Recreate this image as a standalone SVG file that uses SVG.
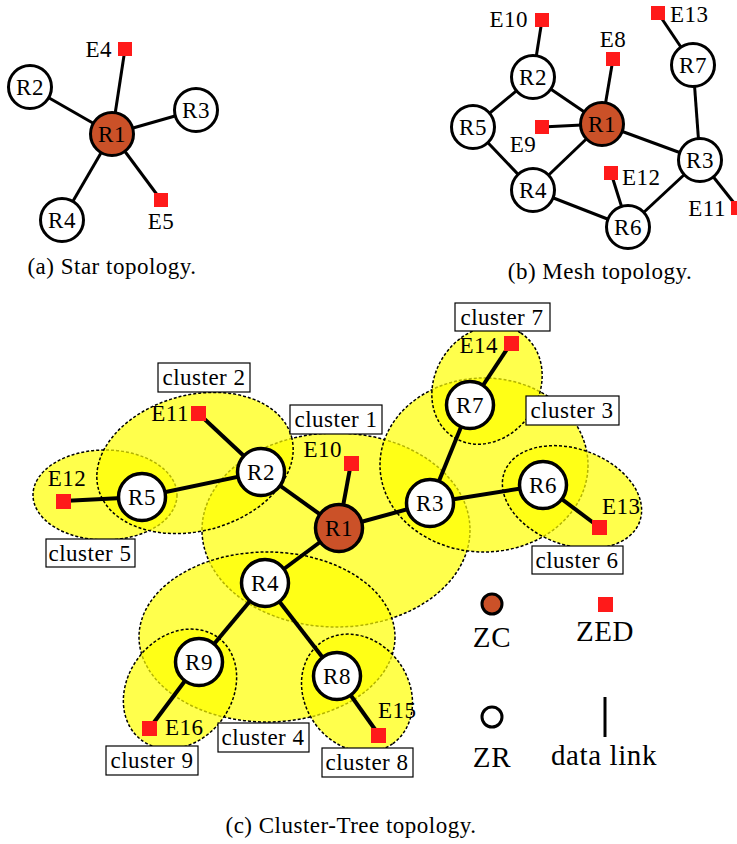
<svg xmlns="http://www.w3.org/2000/svg" width="737" height="844" viewBox="0 0 737 844" font-family="'Liberation Serif', 'DejaVu Serif', serif">
  <style>
    text { font-family: 'Liberation Serif', 'DejaVu Serif', serif; font-size: 23px; letter-spacing: 0.5px; fill: #000; }
    .mid { text-anchor: middle; }
    .end { text-anchor: end; }
    .big { font-size: 29px; letter-spacing: 0.6px; }
    .zr { fill: #fff; stroke: #000; stroke-width: 3; }
    .zc { fill: #CB5128; stroke: #000; stroke-width: 3; }
    .zr4 { fill: #fff; stroke: #000; stroke-width: 3.5; }
    .zc4 { fill: #CB5128; stroke: #000; stroke-width: 3.5; }
    .zed { fill: #FF1A1A; }
    .link line { stroke: #000; stroke-width: 3; }
    .link4 line { stroke: #000; stroke-width: 4; }
    .cl { fill: #FFFF00; fill-opacity: 0.7; stroke: #000; stroke-width: 1.5; stroke-dasharray: 3 2; }
    .tag { fill: #fff; stroke: #000; stroke-width: 1.2; }
  </style>

  <!-- (a) star topology -->
  <g id="star">
    <g id="star-links" class="link">
      <line x1="112" y1="134" x2="125" y2="49"/>
      <line x1="112" y1="134" x2="30" y2="87"/>
      <line x1="112" y1="134" x2="196" y2="110"/>
      <line x1="112" y1="134" x2="62" y2="220"/>
      <line x1="112" y1="134" x2="161" y2="200"/>
    </g>
    <g id="a-R1"><circle class="zc" cx="112" cy="134" r="21.5"/><text class="mid" x="112" y="142">R1</text></g>
    <g id="a-R2"><circle class="zr" cx="30" cy="87" r="21.5"/><text class="mid" x="30" y="95">R2</text></g>
    <g id="a-R3"><circle class="zr" cx="196" cy="110" r="21.5"/><text class="mid" x="196" y="118">R3</text></g>
    <g id="a-R4"><circle class="zr" cx="62" cy="220" r="21.5"/><text class="mid" x="62" y="228">R4</text></g>
    <g id="a-E4"><rect class="zed" x="118" y="42" width="14" height="14"/><text class="end" x="112" y="57">E4</text></g>
    <g id="a-E5"><rect class="zed" x="154" y="193" width="14" height="14"/><text class="mid" x="161" y="229">E5</text></g>
    <text class="mid" x="112" y="274">(a) Star topology.</text>
  </g>

  <!-- (b) mesh topology -->
  <g id="mesh">
    <g id="mesh-links" class="link">
      <line x1="533" y1="77" x2="542" y2="20"/>
      <line x1="533" y1="77" x2="473" y2="127"/>
      <line x1="533" y1="77" x2="602" y2="124"/>
      <line x1="602" y1="124" x2="613" y2="59"/>
      <line x1="602" y1="124" x2="542" y2="127"/>
      <line x1="602" y1="124" x2="533" y2="190"/>
      <line x1="602" y1="124" x2="700" y2="160"/>
      <line x1="473" y1="127" x2="533" y2="190"/>
      <line x1="533" y1="190" x2="628" y2="227"/>
      <line x1="628" y1="227" x2="611" y2="173"/>
      <line x1="628" y1="227" x2="700" y2="160"/>
      <line x1="700" y1="160" x2="693" y2="65"/>
      <line x1="693" y1="65" x2="658" y2="13"/>
      <line x1="700" y1="160" x2="738" y2="208"/>
    </g>
    <g id="b-R1"><circle class="zc" cx="602" cy="124" r="21.5"/><text class="mid" x="602" y="132">R1</text></g>
    <g id="b-R2"><circle class="zr" cx="533" cy="77" r="21.5"/><text class="mid" x="533" y="85">R2</text></g>
    <g id="b-R3"><circle class="zr" cx="700" cy="160" r="21.5"/><text class="mid" x="700" y="168">R3</text></g>
    <g id="b-R4"><circle class="zr" cx="533" cy="190" r="21.5"/><text class="mid" x="533" y="198">R4</text></g>
    <g id="b-R5"><circle class="zr" cx="473" cy="127" r="21.5"/><text class="mid" x="473" y="135">R5</text></g>
    <g id="b-R6"><circle class="zr" cx="628" cy="227" r="21.5"/><text class="mid" x="628" y="235">R6</text></g>
    <g id="b-R7"><circle class="zr" cx="693" cy="65" r="21.5"/><text class="mid" x="693" y="73">R7</text></g>
    <g id="b-E10"><rect class="zed" x="535" y="13" width="14" height="14"/><text class="end" x="528" y="27">E10</text></g>
    <g id="b-E8"><rect class="zed" x="606" y="52" width="14" height="14"/><text class="mid" x="613" y="47">E8</text></g>
    <g id="b-E9"><rect class="zed" x="535" y="120" width="14" height="14"/><text class="mid" x="523" y="152">E9</text></g>
    <g id="b-E12"><rect class="zed" x="604" y="166" width="14" height="14"/><text x="622" y="185">E12</text></g>
    <g id="b-E13"><rect class="zed" x="651" y="6" width="14" height="14"/><text x="670" y="22">E13</text></g>
    <g id="b-E11"><rect class="zed" x="731" y="201" width="14" height="14"/><text class="end" x="726" y="216">E11</text></g>
    <text class="mid" x="600" y="279">(b) Mesh topology.</text>
  </g>

  <!-- (c) cluster-tree topology -->
  <g id="cluster-tree">
    <g id="clusters">
      <ellipse id="cluster1" class="cl" cx="336" cy="530" rx="134" ry="97"/>
      <ellipse id="cluster3" class="cl" cx="484" cy="465" rx="104" ry="87"/>
      <ellipse id="cluster4" class="cl" cx="267" cy="637" rx="128" ry="85"/>
      <ellipse id="cluster5" class="cl" cx="105" cy="495" rx="72" ry="45"/>
      <ellipse id="cluster2" class="cl" cx="195" cy="463" rx="100" ry="68" transform="rotate(-15 195 463)"/>
      <ellipse id="cluster7" class="cl" cx="487" cy="385" rx="62" ry="52" transform="rotate(-57 487 385)"/>
      <ellipse id="cluster6" class="cl" cx="572" cy="497" rx="72" ry="48" transform="rotate(20 572 497)"/>
      <ellipse id="cluster9" class="cl" cx="180" cy="689" rx="64" ry="52" transform="rotate(-53 180 689)"/>
      <ellipse id="cluster8" class="cl" cx="357" cy="693" rx="62" ry="52" transform="rotate(55 357 693)"/>
    </g>

    <g id="cluster-tags">
      <g id="tag1"><rect class="tag" x="290" y="405" width="92" height="29"/><text class="mid" x="336" y="427">cluster 1</text></g>
      <g id="tag2"><rect class="tag" x="158" y="363" width="92" height="29"/><text class="mid" x="204" y="385">cluster 2</text></g>
      <g id="tag3"><rect class="tag" x="526" y="396" width="93" height="29"/><text class="mid" x="572" y="418">cluster 3</text></g>
      <g id="tag4"><rect class="tag" x="218" y="723" width="91" height="29"/><text class="mid" x="263" y="745">cluster 4</text></g>
      <g id="tag5"><rect class="tag" x="46" y="539" width="89" height="28"/><text class="mid" x="90" y="561">cluster 5</text></g>
      <g id="tag6"><rect class="tag" x="532" y="546" width="91" height="28"/><text class="mid" x="577" y="568">cluster 6</text></g>
      <g id="tag7"><rect class="tag" x="455" y="303" width="95" height="28"/><text class="mid" x="502" y="325">cluster 7</text></g>
      <g id="tag8"><rect class="tag" x="322" y="748" width="91" height="29"/><text class="mid" x="367" y="770">cluster 8</text></g>
      <g id="tag9"><rect class="tag" x="106" y="746" width="92" height="29"/><text class="mid" x="152" y="768">cluster 9</text></g>
    </g>

    <g id="tree-links" class="link4">
      <line x1="261" y1="472" x2="198" y2="413"/>
      <line x1="261" y1="472" x2="142" y2="497"/>
      <line x1="142" y1="497" x2="63" y2="501"/>
      <line x1="261" y1="472" x2="339" y2="528"/>
      <line x1="339" y1="528" x2="351" y2="463"/>
      <line x1="339" y1="528" x2="430" y2="503"/>
      <line x1="430" y1="503" x2="470" y2="405"/>
      <line x1="470" y1="405" x2="511" y2="343"/>
      <line x1="430" y1="503" x2="543" y2="485"/>
      <line x1="543" y1="485" x2="599" y2="527"/>
      <line x1="339" y1="528" x2="265" y2="583"/>
      <line x1="265" y1="583" x2="199" y2="662"/>
      <line x1="199" y1="662" x2="149" y2="729"/>
      <line x1="265" y1="583" x2="337" y2="676"/>
      <line x1="337" y1="676" x2="379" y2="735"/>
    </g>

    <g id="c-R1"><circle class="zc4" cx="339" cy="528" r="23.5"/><text class="mid" x="339" y="536">R1</text></g>
    <g id="c-R2"><circle class="zr4" cx="261" cy="472" r="23.5"/><text class="mid" x="261" y="480">R2</text></g>
    <g id="c-R3"><circle class="zr4" cx="430" cy="503" r="23.5"/><text class="mid" x="430" y="511">R3</text></g>
    <g id="c-R4"><circle class="zr4" cx="265" cy="583" r="23.5"/><text class="mid" x="265" y="591">R4</text></g>
    <g id="c-R5"><circle class="zr4" cx="142" cy="497" r="23.5"/><text class="mid" x="142" y="505">R5</text></g>
    <g id="c-R6"><circle class="zr4" cx="543" cy="485" r="23.5"/><text class="mid" x="543" y="493">R6</text></g>
    <g id="c-R7"><circle class="zr4" cx="470" cy="405" r="23.5"/><text class="mid" x="470" y="413">R7</text></g>
    <g id="c-R8"><circle class="zr4" cx="337" cy="676" r="23.5"/><text class="mid" x="337" y="684">R8</text></g>
    <g id="c-R9"><circle class="zr4" cx="199" cy="662" r="23.5"/><text class="mid" x="199" y="670">R9</text></g>
    <g id="c-E10"><rect class="zed" x="344" y="456" width="15" height="15"/><text class="end" x="342" y="457">E10</text></g>
    <g id="c-E11"><rect class="zed" x="191" y="406" width="15" height="15"/><text class="end" x="189" y="421">E11</text></g>
    <g id="c-E12"><rect class="zed" x="56" y="494" width="15" height="15"/><text class="mid" x="67" y="486">E12</text></g>
    <g id="c-E13"><rect class="zed" x="592" y="520" width="15" height="15"/><text x="602" y="514">E13</text></g>
    <g id="c-E14"><rect class="zed" x="504" y="336" width="15" height="15"/><text class="end" x="498" y="353">E14</text></g>
    <g id="c-E15"><rect class="zed" x="371" y="728" width="15" height="15"/><text x="378" y="718">E15</text></g>
    <g id="c-E16"><rect class="zed" x="142" y="721" width="15" height="15"/><text x="165" y="735">E16</text></g>

    <g id="legend">
      <g id="legend-zc"><circle class="zc" cx="492" cy="604" r="10"/><text class="mid big" x="492" y="647">ZC</text></g>
      <g id="legend-zed"><rect class="zed" x="598" y="597" width="15" height="15"/><text class="mid big" x="605" y="641">ZED</text></g>
      <g id="legend-zr"><circle class="zr" cx="492" cy="717" r="10"/><text class="mid big" x="492" y="767">ZR</text></g>
      <g id="legend-link"><line x1="605" y1="697" x2="605" y2="737" stroke="#000" stroke-width="3"/><text class="mid big" x="604" y="765">data link</text></g>
    </g>

    <text class="mid" x="351" y="833">(c) Cluster-Tree topology.</text>
  </g>
</svg>
